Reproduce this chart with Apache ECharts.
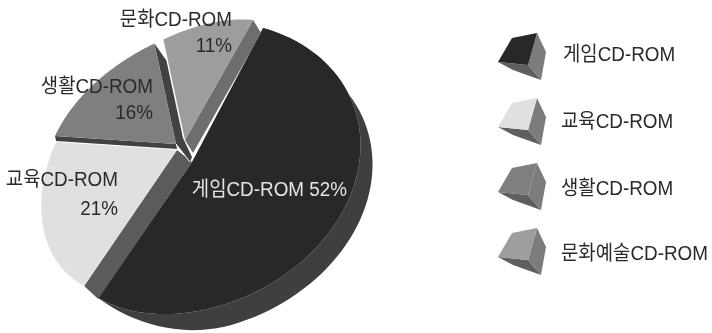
<!DOCTYPE html>
<html>
<head>
<meta charset="utf-8">
<style>html,body{margin:0;padding:0;background:#fff}#chart{width:712px;height:333px}</style>
<script src="https://cdn.jsdelivr.net/npm/echarts@6/dist/echarts.min.js"></script>
</head>
<body>
<div id="chart"></div>
<script>
// Market share of CD-ROM titles by genre (percent)
var sliceNames = ['게임CD-ROM', '교육CD-ROM', '생활CD-ROM', '문화CD-ROM'];
var sliceValues = [52, 21, 16, 11];
var legendNames = ['게임CD-ROM', '교육CD-ROM', '생활CD-ROM', '문화예술CD-ROM'];

var topColors = ['#282828', '#e0e0e0', '#7f7f7f', '#9d9d9d'];
var labelColors = ['#e4e4e4', '#2a2a2a', '#2a2a2a', '#2a2a2a'];
var FONT = '"Liberation Sans","Noto Sans CJK KR",sans-serif';
var FONT_SIZE = 20.5;
var TEXT_SQUEEZE = 0.92;

// Projection of the tilted disc: each slice sits on an exploded apex, and its rim is
// an ellipse given by a centre shift and two conjugate radius vectors.
var nearDisc = { c: [-5, 6], a: [76, -140], b: [156, 43], e: [0, 0] };
var farDisc = { c: [-6, 10.7], a: [74.1, -130.7], b: [106.5, 35.4], e: [-5, 12.6] };
var sliceDisc = [nearDisc, farDisc, farDisc, farDisc];
var apexes = [[192, 162], [177, 150], [176, 144], [185, 140]];
var DEPTH = [12, 19];
var TURN = 2 * Math.PI;
var BUMP_START = 0.73 * TURN;   // far side of the rim flattens past this turn
var TAIL_START = 0.42 * TURN;   // near slice pulls in slightly towards its end
var TAIL_END = 0.52 * TURN;
var TAIL_PULL = [6, -3.5];
var SIDE_FADE = Math.PI / 4;    // the wall tapers out at the near slice's end

function rimPoint(i, theta) {
  var d = sliceDisc[i], cs = Math.cos(theta), sn = Math.sin(theta);
  var bump = theta > BUMP_START ? Math.sin((theta - BUMP_START) / (TURN - BUMP_START) * Math.PI) : 0;
  var x = d.c[0] + d.a[0] * cs + d.b[0] * sn + d.e[0] * bump;
  var y = d.c[1] + d.a[1] * cs + d.b[1] * sn + d.e[1] * bump;
  if (i === 0 && theta > TAIL_START) {
    var f = Math.min(1, (theta - TAIL_START) / (TAIL_END - TAIL_START));
    x += TAIL_PULL[0] * f * f;
    y += TAIL_PULL[1] * f * f;
  }
  return [apexes[i][0] + x, apexes[i][1] + y];
}
function rimArc(i, t0, t1) {
  var pts = [], n = 72;
  for (var k = 0; k <= n; k++) pts.push(rimPoint(i, t0 + (t1 - t0) * k / n));
  return pts;
}
function poly(points, fill) {
  return { type: 'polygon', shape: { points: points }, style: { fill: fill }, silent: true };
}
function textEl(text, x, y, fill, align) {
  return {
    type: 'text', silent: true, x: x, y: y, scaleX: TEXT_SQUEEZE,
    style: { text: text, x: 0, y: 0, fill: fill, font: FONT_SIZE + 'px ' + FONT, align: align, verticalAlign: 'middle' }
  };
}
function label(text, x, y, i) { return textEl(text, x, y, labelColors[i], 'right'); }
function plus(p, dx, dy) { return [p[0] + dx, p[1] + dy]; }

var total = sliceValues.reduce(function (s, v) { return s + v; }, 0);

function renderSlice(params, api) {
  var i = params.dataIndex;
  var before = 0;
  for (var k = 0; k < i; k++) before += sliceValues[k];
  var value = api.value(1);
  var t0 = before / total * TURN;
  var t1 = (before + value) / total * TURN;
  var arc = rimArc(i, t0, t1);
  var apex = apexes[i];
  var first = arc[0], last = arc[arc.length - 1];
  var kids = [];
  var pct = value + '%';

  if (i === 0) {
    var lower = arc.map(function (p, k) {
      var t = t0 + (t1 - t0) * k / (arc.length - 1);
      var f = Math.sin(Math.min(1, (t1 - t) / SIDE_FADE) * Math.PI / 2);
      return plus(p, DEPTH[0] * f, DEPTH[1] * f);
    });
    kids.push(poly(arc.concat(lower.reverse()), '#3f3f41'));
  }
  if (i === 1) {
    kids.push(poly([apex, first, plus(first, 14, 13), plus(apex, 15, 12)], '#5b5b5d'));
  }
  if (i === 2) {
    kids.push(poly([apex, first, plus(first, 1, 5), plus(apex, 1, 5)], '#424244'));
    kids.push(poly([apex, last, plus(last, 12, 17), plus(apex, 7, -6), plus(apex, 16, 13), plus(apex, 14, 18)], '#424244'));
    kids.push({ type: 'polyline', silent: true, shape: { points: [plus(apex, 0, 0), plus(apex, 14, 18)] }, style: { stroke: '#ffffff', lineWidth: 1, fill: null } });
  }
  if (i === 3) {
    kids.push(poly([apex, last, plus(last, 8, 13), plus(apex, 8, 13)], '#6e6e70'));
  }
  kids.push(poly([apex].concat(arc), topColors[i]));

  if (i === 0) kids.push(label(sliceNames[0] + ' ' + pct, 347, 190, i));
  if (i === 1) { kids.push(label(sliceNames[1], 118, 180, i)); kids.push(label(pct, 118, 209, i)); }
  if (i === 2) { kids.push(label(sliceNames[2], 153, 87, i)); kids.push(label(pct, 153, 113, i)); }
  if (i === 3) { kids.push(label(sliceNames[3], 232, 20, i)); kids.push(label(pct, 232, 46, i)); }
  return { type: 'group', children: kids };
}

// Legend keys are small shaded cubes, so they are composed as graphic elements
var keyTop = [[498, 62], [512, 38], [537, 33], [528, 65]];
var keyRight = [[537, 33], [546, 52], [541, 80], [528, 65]];
var keyBottom = [[498, 62], [528, 65], [541, 80], [513, 70]];
var keyStep = 65;
var keyTextX = [563, 561, 561, 561];
var keyTextY = [55, 122, 189, 254];

function shifted(points, dy) {
  return points.map(function (p) { return [p[0], p[1] + dy]; });
}
var legendGraphics = [];
legendNames.forEach(function (name, i) {
  var dy = i * keyStep;
  legendGraphics.push(poly(shifted(keyBottom, dy), '#5f5f61'));
  legendGraphics.push(poly(shifted(keyRight, dy), '#7c7c7e'));
  legendGraphics.push(poly(shifted(keyTop, dy), topColors[i]));
  legendGraphics.push(textEl(name, keyTextX[i], keyTextY[i], '#2a2a2a', 'left'));
});

var chart = echarts.init(document.getElementById('chart'), null, { renderer: 'canvas' });
chart.setOption({
  backgroundColor: '#ffffff',
  animation: false,
  graphic: { elements: legendGraphics },
  series: [{
    type: 'custom',
    coordinateSystem: 'none',
    renderItem: renderSlice,
    data: sliceNames.map(function (n, i) { return [n, sliceValues[i]]; })
  }]
});
</script>
</body>
</html>
